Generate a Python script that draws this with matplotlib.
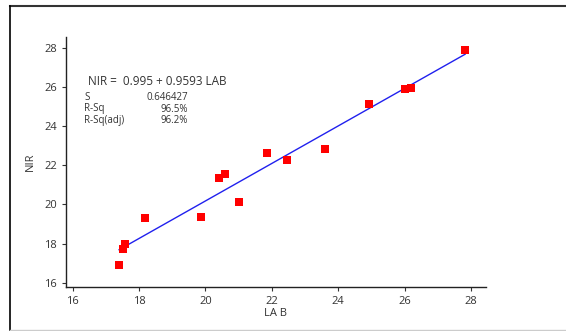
import numpy as np
import matplotlib
matplotlib.use('Agg')
from matplotlib import pyplot as plt
from matplotlib.lines import Line2D

lab = [17.40, 17.52, 17.58, 18.18, 19.87, 20.40, 20.59, 21.02, 21.84, 22.45,
       23.60, 24.93, 26.01, 26.18, 27.82]
nir = [16.90, 17.71, 17.98, 19.29, 19.37, 21.34, 21.54, 20.11, 22.61, 22.27,
       22.84, 25.14, 25.89, 25.97, 27.90]
b0 = 0.995
b1 = 0.9593
xticks = [16, 18, 20, 22, 24, 26, 28]
yticks = [16, 18, 20, 22, 24, 26, 28]
stat_names = ['S', 'R-Sq', 'R-Sq(adj)']
stat_vals = ['0.646427', '96.5%', '96.2%']

plt.rcParams['font.family'] = ['Open Sans', 'DejaVu Sans']
txt = '#333333'

fig = plt.figure(figsize=(5.66, 3.31), dpi=100)
ax = fig.add_axes([66/566, 44/331, 420/566, 249.7/331])

xs = np.array([min(lab), max(lab)])
ax.plot(xs, b0 + b1*xs, color='#2020ee', lw=1.0, zorder=2)
ax.plot(lab, nir, 's', color='red', markersize=5.8, markeredgewidth=0, zorder=3)

ax.set_xlim(15.8, 28.45)
ax.set_ylim(15.78, 28.55)
ax.set_xticks(xticks)
ax.set_yticks(yticks)
ax.tick_params(labelsize=8, colors=txt, length=3, width=0.8)
for s in ['top', 'right']:
    ax.spines[s].set_visible(False)
for s in ['left', 'bottom']:
    ax.spines[s].set_color('#222222')
    ax.spines[s].set_linewidth(1.0)
ax.set_xlabel('LA B', fontsize=8, color=txt, labelpad=1)
ax.set_ylabel('NIR', fontsize=8, color=txt, labelpad=6)

# regression summary text
fig.text(88/566, 1 - 82/331, 'NIR =  0.995 + 0.9593 LAB', fontsize=8.5, color=txt,
         va='center', ha='left')
for i, (n, v) in enumerate(zip(stat_names, stat_vals)):
    yy = 1 - (97 + 12*i)/331
    fig.text(84/566, yy, n, fontsize=7, color=txt, va='center', ha='left')
    fig.text(188/566, yy, v, fontsize=7, color=txt, va='center', ha='right')

# outer frame
fig.add_artist(Line2D([10/566, 1], [1 - 6/331, 1 - 6/331], color='#333333', lw=1.5,
                      transform=fig.transFigure))
fig.add_artist(Line2D([10/566, 10/566], [1 - 6/331, 1/331], color='black', lw=1.2,
                      transform=fig.transFigure))
fig.add_artist(Line2D([10/566, 1], [1.5/331, 1.5/331], color='#cccccc', lw=1.0,
                      transform=fig.transFigure))

fig.savefig('out.png', dpi=100)
